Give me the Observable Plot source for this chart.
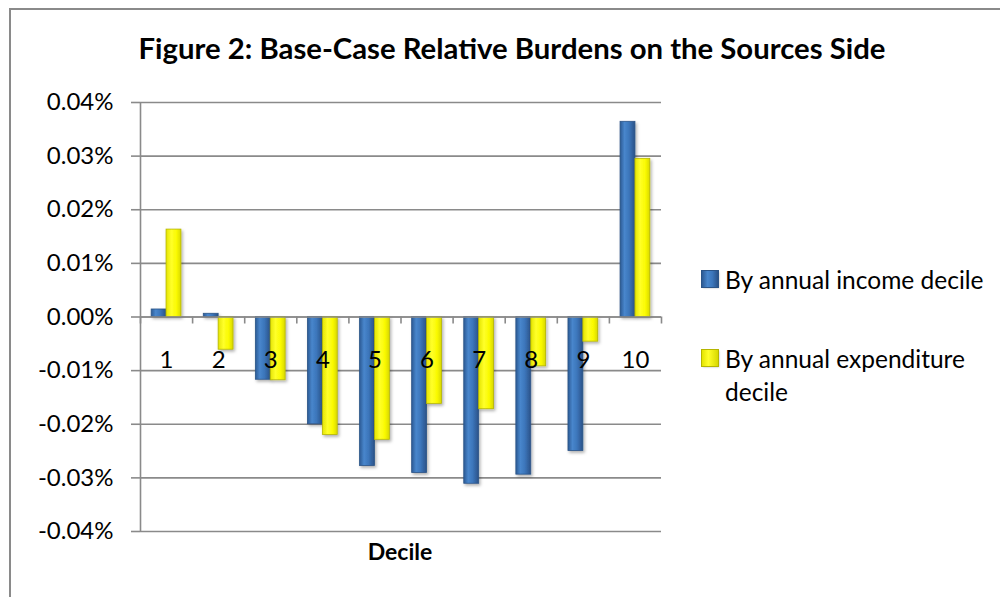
<!DOCTYPE html>
<html>
<head>
<meta charset="utf-8">
<script src="https://cdn.jsdelivr.net/npm/d3@7"></script>
<script src="https://cdn.jsdelivr.net/npm/@observablehq/plot@0.6"></script>
<style>
  html, body { margin: 0; padding: 0; background: #fff; }
  #wrap { position: relative; width: 1000px; height: 597px; overflow: hidden; font-family: Lato, "Open Sans", sans-serif; color: #000; }
  #frame { position: absolute; left: 9px; top: 8px; width: 1200px; height: 800px; border: 2px solid #8a8a8a; box-sizing: border-box; }
  #chart { position: absolute; left: 0; top: 0; }
  #title { position: absolute; left: 12px; width: 1000px; top: 33px; text-align: center; font-weight: bold; font-size: 29.3px; line-height: 1; white-space: nowrap; }
  #xlabel { position: absolute; left: 300px; width: 200px; top: 540px; text-align: center; font-weight: bold; font-size: 23px; line-height: 1; }
  .leg { position: absolute; left: 702px; font-size: 24.5px; line-height: 33px; }
  .leg .sw { position: absolute; left: 0; width: 16px; height: 16px; }
  .leg .tx { position: absolute; left: 23px; width: 260px; }
</style>
</head>
<body>
<div id="wrap">
  <div id="frame"></div>
  <div id="chart"></div>
  <div id="title"></div>
  <div id="xlabel"></div>
  <div id="legend"></div>
</div>
<script>
const titleText = "Figure 2: Base-Case Relative Burdens on the Sources Side";
const xTitle = "Decile";
const deciles = [1, 2, 3, 4, 5, 6, 7, 8, 9, 10];
const seriesNames = ["By annual income decile", "By annual expenditure decile"];
// values in percent
const incomeValues = [0.0014, 0.0006, -0.0117, -0.0200, -0.0278, -0.0291, -0.0311, -0.0294, -0.0250, 0.0364];
const expenditureValues = [0.0163, -0.0061, -0.0118, -0.0220, -0.0229, -0.0162, -0.0172, -0.0092, -0.0046, 0.0295];
const yTicks = [-0.04, -0.03, -0.02, -0.01, 0, 0.01, 0.02, 0.03, 0.04];

const barFrac = 1 / 3.5; // gap width 150%
const incomeRows = deciles.map((d, i) => ({decile: d, series: seriesNames[0], value: incomeValues[i]}));
const expRows = deciles.map((d, i) => ({decile: d, series: seriesNames[1], value: expenditureValues[i]}));
const boundaries = [0, ...deciles].map(d => d + 0.5);
const gray = "#8a8a8a";

const chart = Plot.plot({
  width: 1000,
  height: 597,
  marginLeft: 140,
  marginRight: 339,
  marginTop: 102,
  marginBottom: 66,
  style: {background: "transparent", fontFamily: "Lato, 'Open Sans', sans-serif", color: "#000"},
  x: {domain: [boundaries[0], boundaries[boundaries.length - 1]], axis: null},
  y: {domain: [yTicks[0], yTicks[yTicks.length - 1]], axis: null},
  marks: [
    Plot.ruleY(yTicks, {stroke: gray, strokeWidth: 1.6}),
    Plot.ruleX([boundaries[0]], {stroke: gray, strokeWidth: 1.6}),
    Plot.axisY({ticks: yTicks, tickFormat: d => d.toFixed(2) + "%", tickSize: 9, tickPadding: 18, stroke: gray, strokeWidth: 1.6, fontSize: 24, fill: "#000", label: null}),
    Plot.ruleX(boundaries, {x: d => d, y1: () => 0, y2: () => 0, insetBottom: -7, stroke: gray, strokeWidth: 1.6}),
    Plot.rectY(incomeRows, {x1: d => d.decile - barFrac, x2: d => d.decile, y: "value", fill: "url(#gBlue)", stroke: "#2b5487", strokeWidth: 0.8}),
    Plot.rectY(expRows, {x1: d => d.decile, x2: d => d.decile + barFrac, y: "value", fill: "url(#gYellow)", stroke: "#b5b500", strokeWidth: 0.8}),
    Plot.ruleY([0], {stroke: gray, strokeWidth: 1.6}),
    Plot.text(deciles, {x: d => d, y: () => 0, dy: 43, text: d => String(d), fontSize: 24, fill: "#000", lineAnchor: "middle"})
  ]
});

const defs = d3.select(chart).insert("defs", ":first-child");
defs.html(`
  <linearGradient id="gBlue" x1="0" y1="0" x2="1" y2="0">
    <stop offset="0" stop-color="#2c5a94"/>
    <stop offset="0.3" stop-color="#4886cc"/>
    <stop offset="0.6" stop-color="#3c76bb"/>
    <stop offset="1" stop-color="#2a5288"/>
  </linearGradient>
  <linearGradient id="gYellow" x1="0" y1="0" x2="1" y2="0">
    <stop offset="0" stop-color="#e4e400"/>
    <stop offset="0.35" stop-color="#ffff2a"/>
    <stop offset="0.7" stop-color="#fafa00"/>
    <stop offset="1" stop-color="#d8d800"/>
  </linearGradient>
  <filter id="shadow" x="-30%" y="-10%" width="160%" height="130%">
    <feDropShadow dx="1.5" dy="2" stdDeviation="1.5" flood-color="#000" flood-opacity="0.3"/>
  </filter>
`);
d3.select(chart).selectAll("g[fill='url(#gBlue)'], g[fill='url(#gYellow)']").attr("filter", "url(#shadow)");

document.getElementById("chart").appendChild(chart);
document.getElementById("title").textContent = titleText;
document.getElementById("xlabel").textContent = xTitle;

const legend = d3.select("#legend");
const legendItems = [
  {name: seriesNames[0], fill: "linear-gradient(90deg,#2c5a94,#4886cc 35%,#3c76bb 65%,#2a5288)", border: "#2b5487", top: 263},
  {name: seriesNames[1], fill: "linear-gradient(90deg,#e4e400,#ffff2a 40%,#d8d800)", border: "#b5b500", top: 342}
];
legendItems.forEach(it => {
  const g = legend.append("div").attr("class", "leg").style("top", it.top + "px");
  g.append("div").attr("class", "sw").style("top", "8px").style("background", it.fill).style("box-shadow", "1px 1px 2px rgba(0,0,0,0.3)").style("outline", `1px solid ${it.border}`);
  g.append("div").attr("class", "tx").text(it.name);
});
</script>
</body>
</html>
